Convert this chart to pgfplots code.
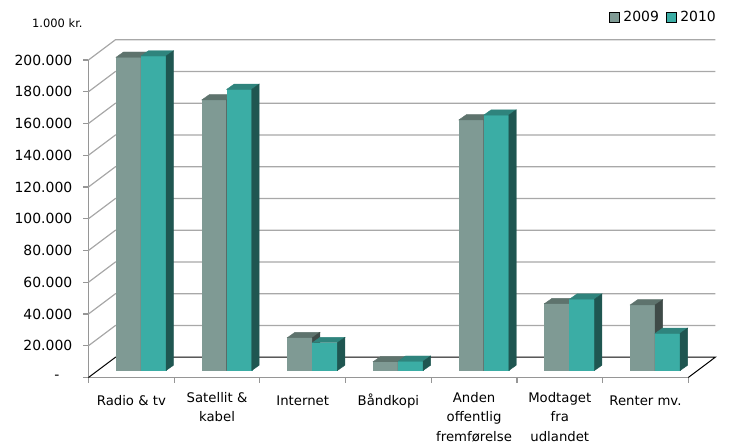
\documentclass[border=0pt]{standalone}
\usepackage{pgfplots}
\pgfplotsset{compat=1.18}
\usepackage{fontspec}
\setmainfont{DejaVu Sans}

\definecolor{frontA}{RGB}{127,154,148}
\definecolor{topA}{RGB}{94,115,109}
\definecolor{sideA}{RGB}{63,75,72}
\definecolor{frontB}{RGB}{59,173,165}
\definecolor{topB}{RGB}{47,132,125}
\definecolor{sideB}{RGB}{31,86,81}
\definecolor{gridgray}{RGB}{168,168,168}
\definecolor{axisgray}{RGB}{150,150,150}

% 3D bar drawn as a plot mark; the mark sits at (category, value) on the front plane
% #1 mark name, #2 left edge offset (bp), #3 front, #4 top, #5 side colour
\newcommand\declarebar[5]{%
  \pgfdeclareplotmark{#1}{%
    \pgfmathsetmacro\yb{7-\barval*1.5875}%
    \pgfmathsetmacro\xa{#2}%
    \pgfmathsetmacro\xb{#2+25}%
    \pgfmathsetmacro\xc{#2+32.5}%
    \pgfmathsetmacro\xd{#2+7.5}%
    \pgfmathsetmacro\yc{\yb+5.3}%
    \pgfsetlinewidth{0.4bp}%
    \pgfsetfillcolor{#3}\pgfsetstrokecolor{#3}%
    \pgfpathrectanglecorners{\pgfpoint{\xa bp}{\yb bp}}{\pgfpoint{\xb bp}{7bp}}%
    \pgfusepath{fill,stroke}%
    \pgfsetfillcolor{#4}\pgfsetstrokecolor{#4}%
    \pgfpathmoveto{\pgfpoint{\xa bp}{7bp}}%
    \pgfpathlineto{\pgfpoint{\xb bp}{7bp}}%
    \pgfpathlineto{\pgfpoint{\xc bp}{12.3bp}}%
    \pgfpathlineto{\pgfpoint{\xd bp}{12.3bp}}%
    \pgfpathclose
    \pgfusepath{fill,stroke}%
    \pgfsetfillcolor{#5}\pgfsetstrokecolor{#5}%
    \pgfpathmoveto{\pgfpoint{\xb bp}{\yb bp}}%
    \pgfpathlineto{\pgfpoint{\xc bp}{\yc bp}}%
    \pgfpathlineto{\pgfpoint{\xc bp}{12.3bp}}%
    \pgfpathlineto{\pgfpoint{\xb bp}{7bp}}%
    \pgfpathclose
    \pgfusepath{fill,stroke}%
  }}
\declarebar{barA}{-15.3}{frontA}{topA}{sideA}
\declarebar{barB}{9.7}{frontB}{topB}{sideB}

\pgfplotsset{
  bar3d/.style={scatter, only marks, mark=#1, point meta=y, forget plot,
    visualization depends on={rawy \as \barval}},
}

\begin{document}
\begin{tikzpicture}
\useasboundingbox (-88.5bp,-66.5bp) rectangle (643.5bp,377.5bp);
\begin{axis}[
    scale only axis,
    x=85.686bp, y=1.5875bp,
    xmin=-0.5, xmax=6.5, ymin=0, ymax=200,
    clip=false,
    axis x line*=bottom, axis y line*=left,
    axis line style={axisgray, line width=1.2bp},
    tick align=outside,
    major tick length=5bp,
    tick style={axisgray, line width=1.2bp},
    xtick={-0.5,0.5,1.5,2.5,3.5,4.5,5.5,6.5},
    xticklabels={,,,,,,,},
    extra x ticks={0,1,2,3,4,5,6},
    extra x tick labels={Radio \& tv, Satellit \&\\kabel, Internet, Båndkopi,
        Anden\\offentlig\\fremførelse, Modtaget\\fra\\udlandet, Renter mv.},
    extra x tick style={major tick length=0pt,
        xticklabel style={align=center, anchor=north, inner sep=0pt, yshift=-14.5bp,
        font=\fontsize{13.3}{19.5}\selectfont\strut}},
    ytick={0,20,...,200},
    yticklabels={{-\hspace*{13bp}},20.000,40.000,60.000,80.000,100.000,120.000,140.000,160.000,180.000,200.000},
    yticklabel style={anchor=east, inner sep=0pt, xshift=-11bp, font=\fontsize{14}{16}\selectfont},
    legend columns=2,
    legend style={draw=none, fill=none, at={(1,1)}, anchor=north east,
        xshift=27.7bp, yshift=49bp, inner sep=0pt,
        font=\fontsize{14}{16}\selectfont, nodes={inner sep=0pt},
        /tikz/every odd column/.append style={column sep=4bp},
        /tikz/every even column/.append style={column sep=7bp}},
    legend image code/.code={\fill[#1] (0bp,-5bp) rectangle (10bp,5bp);},
]
% back wall and left wall grid lines
\pgfplotsinvokeforeach{20,40,60,80,100,120,140,160,180,200}{
  \draw[gridgray, line width=1.2bp] (axis cs:-0.5,#1) -- ++(27bp,20.3bp) -- ++(599.8bp,0bp);
}
% floor
\draw[black, line width=1bp] (axis cs:-0.5,0) -- ++(27bp,20.3bp) -- ++(599.8bp,0bp) -- ++(-27bp,-20.3bp);

\addplot[bar3d=barA] coordinates {
  (0,197.3) (1,170.4) (2,20.7) (3,5.5) (4,157.8) (5,42.1) (6,41.3)
};
\addplot[bar3d=barB] coordinates {
  (0,198.1) (1,177.1) (2,17.5) (3,5.8) (4,160.9) (5,44.9) (6,23.4)
};
\addlegendimage{fill=frontA}
\addlegendentry{2009}
\addlegendimage{fill=frontB}
\addlegendentry{2010}

\node[anchor=base west, inner sep=0pt, font=\fontsize{11.5}{13}\selectfont]
  at ([xshift=-56.5bp, yshift=32bp]rel axis cs:0,1) {1.000 kr.};
\end{axis}
\end{tikzpicture}
\end{document}
